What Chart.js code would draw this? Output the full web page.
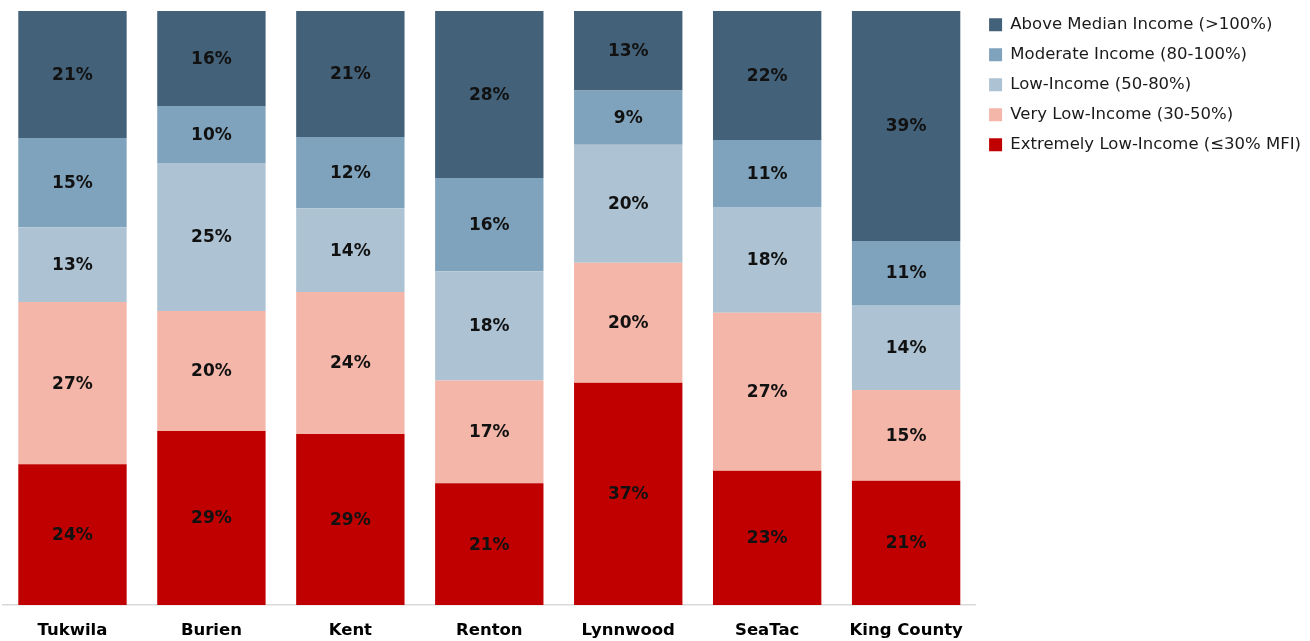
<!DOCTYPE html>
<html>
<head>
<meta charset="utf-8">
<script src="https://cdn.jsdelivr.net/npm/chart.js@4"></script>
<style>
  html, body { margin: 0; padding: 0; background: #fff; }
  #wrap { width: 1310px; height: 641px; }
</style>
</head>
<body>
<div id="wrap"><canvas id="incomeChart"></canvas></div>
<script>
const places = ['Tukwila', 'Burien', 'Kent', 'Renton', 'Lynnwood', 'SeaTac', 'King County'];

// share of households, percent (bottom of stack first)
const extremelyLow = [23.7, 29.3, 28.8, 20.5, 37.4, 22.6, 20.9];
const veryLow      = [27.3, 20.2, 23.9, 17.3, 20.2, 26.6, 15.3];
const lowIncome    = [12.6, 24.9, 14.1, 18.4, 19.9, 17.8, 14.3];
const moderate     = [15.0, 9.6, 12.0, 15.7, 9.1, 11.3, 10.8];
const aboveMedian  = [21.4, 16.0, 21.2, 28.1, 13.4, 21.7, 38.7];

const fontFamily = '"DejaVu Sans", sans-serif';

// draw rounded percent in the middle of every segment
const segmentLabels = {
    id: 'segmentLabels',
    afterDatasetsDraw(chart) {
        const ctx = chart.ctx;
        ctx.save();
        ctx.font = 'bold 17px ' + fontFamily;
        ctx.fillStyle = '#111111';
        ctx.textAlign = 'center';
        ctx.textBaseline = 'middle';
        chart.data.datasets.forEach((ds, i) => {
            const meta = chart.getDatasetMeta(i);
            meta.data.forEach((bar, j) => {
                const v = ds.data[j];
                ctx.fillText(Math.round(v) + '%', bar.x, (bar.y + bar.base) / 2 + 1);
            });
        });
        ctx.restore();
    }
};

const canvas = document.getElementById('incomeChart');
new Chart(canvas.getContext('2d'), {
    type: 'bar',
    data: {
        labels: places,
        datasets: [
            { label: 'Extremely Low-Income (≤30% MFI)', data: extremelyLow, backgroundColor: '#C00000' },
            { label: 'Very Low-Income (30-50%)', data: veryLow, backgroundColor: '#F4B6A9' },
            { label: 'Low-Income (50-80%)', data: lowIncome, backgroundColor: '#ADC3D3' },
            { label: 'Moderate Income (80-100%)', data: moderate, backgroundColor: '#7FA3BC' },
            { label: 'Above Median Income (>100%)', data: aboveMedian, backgroundColor: '#436178' }
        ]
    },
    options: {
        responsive: true,
        maintainAspectRatio: false,
        animation: false,
        datasets: {
            bar: { barPercentage: 0.78, categoryPercentage: 1.0 }
        },
        layout: { padding: { top: 3, left: 3, right: -1, bottom: 0 } },
        scales: {
            x: {
                stacked: true,
                grid: { display: false, drawTicks: false },
                border: { color: '#d9d9d9', width: 1.5 },
                ticks: {
                    padding: 16,
                    color: '#000000',
                    font: { family: fontFamily, size: 16.5, weight: 'bold' }
                },
                afterFit: (scale) => { scale.height = 36; }
            },
            y: {
                stacked: true,
                display: false,
                min: 0,
                max: 100
            }
        },
        plugins: {
            title: {
                display: true,
                text: '',
                fullSize: false,
                padding: 0,
                font: { size: 8, lineHeight: 1 }
            },
            legend: {
                position: 'right',
                align: 'start',
                reverse: true,
                labels: {
                    boxWidth: 13,
                    boxHeight: 13,
                    padding: 13.5,
                    color: '#1a1a1a',
                    font: { family: fontFamily, size: 16.5 }
                }
            },
            tooltip: { enabled: false }
        }
    },
    plugins: [segmentLabels]
});
</script>
</body>
</html>
